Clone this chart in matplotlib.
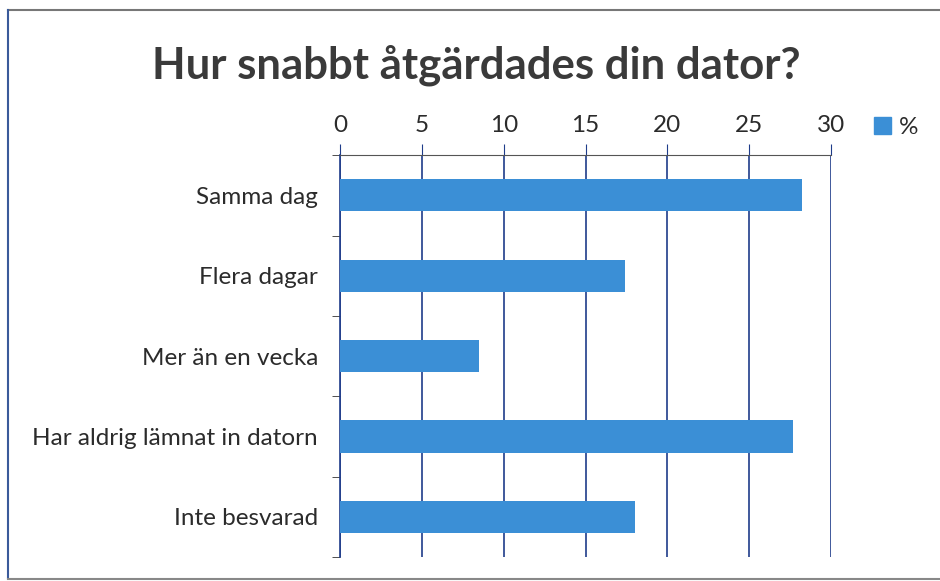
import matplotlib.pyplot as plt
from matplotlib.lines import Line2D
from matplotlib.patches import Patch

categories = ['Samma dag', 'Flera dagar', 'Mer än en vecka',
              'Har aldrig lämnat in datorn', 'Inte besvarad']
values = [28.2, 17.4, 8.5, 27.7, 18.0]
xticks = [0, 5, 10, 15, 20, 25, 30]

bar_color = '#3b8fd6'
grid_color = '#1f3c8a'
text_color = '#2b2b2b'

plt.rcParams['font.family'] = ['Lato', 'DejaVu Sans']

fig = plt.figure(figsize=(9.4, 5.81), dpi=100)
ax = fig.add_axes([0.362, 0.041, 0.522, 0.692])

pos = list(range(len(categories)))
ax.barh(pos, values, height=0.4, color=bar_color, zorder=3)

ax.set_xlim(0, 30)
ax.set_ylim(len(categories) - 0.5, -0.5)
ax.set_xticks(xticks)
ax.xaxis.tick_top()
ax.tick_params(axis='x', direction='out', length=8, color=grid_color,
               labelsize=17.5, labelcolor=text_color, pad=6)
ax.grid(axis='x', color=grid_color, linewidth=1.2, zorder=1)

ax.set_yticks(pos)
ax.set_yticklabels(categories, fontsize=17.5, color=text_color)
ax.set_yticks([i + 0.5 for i in range(-1, len(categories))], minor=True)
ax.tick_params(axis='y', which='major', length=0, pad=16)
ax.tick_params(axis='y', which='minor', direction='out', length=6,
               color='#333333')

ax.spines['right'].set_visible(False)
ax.spines['bottom'].set_visible(False)
ax.spines['top'].set_color('#555555')
ax.spines['left'].set_color(grid_color)
ax.spines['left'].set_linewidth(1.2)

fig.legend(handles=[Patch(color=bar_color)], labels=['%'],
           loc='center left', bbox_to_anchor=(0.917, 0.78),
           frameon=False, fontsize=17.5, handlelength=0.7,
           handleheight=0.7, handletextpad=0.3, borderpad=0,
           labelcolor=text_color)

fig.text(0.507, 0.888, 'Hur snabbt åtgärdades din dator?', ha='center',
         va='center', fontsize=31.5, fontweight='bold', color='#3a3a3a')

# scanned frame edges
fig.add_artist(Line2D([0.008, 1.0], [0.982, 0.982], color='#777777', lw=1.5))
fig.add_artist(Line2D([0.009, 0.009], [0.005, 0.982], color='#3a5a9a', lw=1.5))
fig.add_artist(Line2D([0.008, 1.0], [0.004, 0.004], color='#888888', lw=1.5))

fig.savefig('out.png', dpi=100)
